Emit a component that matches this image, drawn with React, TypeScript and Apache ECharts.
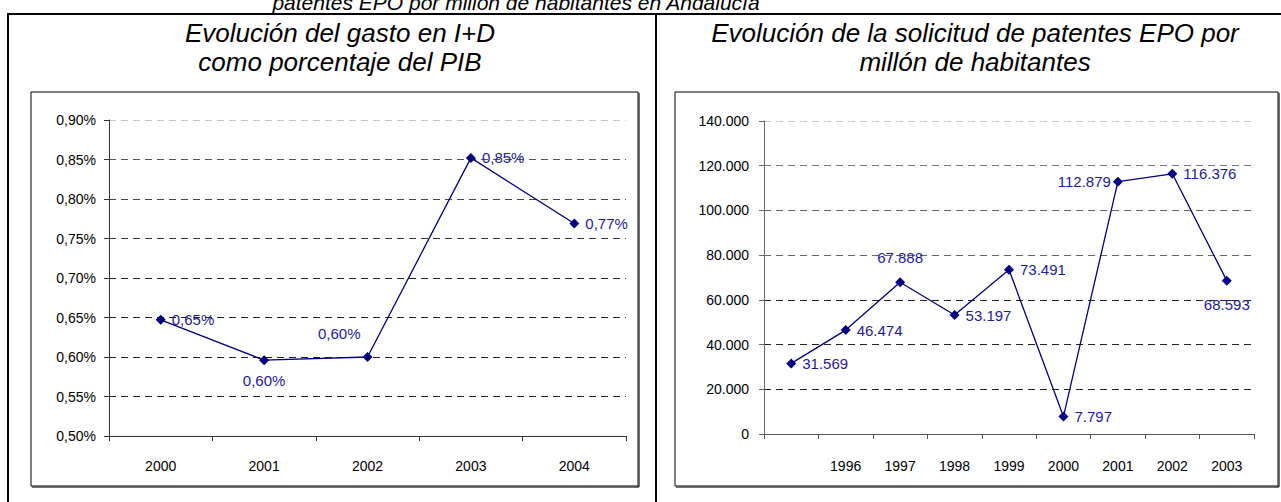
import React, { useEffect, useRef } from "react";
import * as echarts from "echarts";

// ---- data ----
const gastoYears = ["2000", "2001", "2002", "2003", "2004"];
const gastoValues = [0.647, 0.596, 0.6, 0.852, 0.769];
const gastoTicks = { min: 0.5, max: 0.9, interval: 0.05 };

const patentYears = ["", "1996", "1997", "1998", "1999", "2000", "2001", "2002", "2003"];
const patentValues = [31569, 46474, 67888, 53197, 73491, 7797, 112879, 116376, 68593];
const patentTicks = { min: 0, max: 140000, interval: 20000 };

const topTitle = "patentes EPO por millón de habitantes en Andalucía";
const leftTitle = ["Evolución del gasto en I+D", "como porcentaje del PIB"];
const rightTitle = ["Evolución de la solicitud de patentes EPO por", "millón de habitantes"];

// ---- styling helpers ----
const FONT = "Liberation Sans";
const NAVY = "#000080";
const LABEL_COLOR = "#1c1c9c";

const fmtPct = (v: number) => v.toFixed(2).replace(".", ",") + "%";
const fmtThousands = (v: number) =>
  Math.round(v)
    .toString()
    .replace(/\B(?=(\d{3})+(?!\d))/g, ".");

const gastoLabelCfg: any[] = [
  { position: "right", distance: 6 },
  { position: "bottom", distance: 8 },
  { position: "left", distance: 2, offset: [0, -24] },
  { position: "right", distance: 6 },
  { position: "right", distance: 6 },
];
const patentLabelCfg: any[] = [
  { position: "right", distance: 6 },
  { position: "right", distance: 6 },
  { position: "top", distance: 12 },
  { position: "right", distance: 6 },
  { position: "right", distance: 6 },
  { position: "right", distance: 6 },
  { position: "left", distance: 2 },
  { position: "right", distance: 6 },
  { position: "bottom", distance: 11 },
];

function frame(x: number, y: number, w: number, h: number) {
  return [
    { type: "rect", shape: { x, y, width: w, height: h }, style: { fill: "none", stroke: "#000", lineWidth: 1 }, z: 1 },
    { type: "line", shape: { x1: x + w + 1, y1: y + 1, x2: x + w + 1, y2: y + h + 1 }, style: { stroke: "#444", lineWidth: 1.5 }, z: 1 },
    { type: "line", shape: { x1: x + 1, y1: y + h + 1, x2: x + w + 1, y2: y + h + 1 }, style: { stroke: "#444", lineWidth: 1.5 }, z: 1 },
  ];
}

function titleText(lines: string[], cx: number, y0: number) {
  return lines.map((t, i) => ({
    type: "text",
    x: cx,
    y: y0 + i * 29,
    style: {
      text: t,
      fontFamily: FONT,
      fontStyle: "italic",
      fontSize: 26,
      fill: "#000",
      align: "center",
      verticalAlign: "middle",
    },
    z: 2,
  }));
}

export default function App() {
  const ref = useRef<HTMLDivElement>(null);

  useEffect(() => {
    document.body.style.margin = "0";
    if (!ref.current) return;
    const chart = echarts.init(ref.current, null, { renderer: "svg" });

    const axisLabelBase = { fontFamily: FONT, fontSize: 14, color: "#000" };

    const option: any = {
      animation: false,
      backgroundColor: "#fff",
      grid: [
        { left: 109, top: 120, width: 517, height: 316, containLabel: false },
        { left: 764, top: 121, width: 490, height: 313, containLabel: false },
      ],
      xAxis: [
        {
          type: "category",
          gridIndex: 0,
          data: gastoYears,
          boundaryGap: true,
          axisLine: { lineStyle: { color: "#333", width: 1 } },
          axisTick: { show: true, length: 5, lineStyle: { color: "#333" } },
          axisLabel: { ...axisLabelBase, margin: 23 },
          splitLine: { show: false },
        },
        {
          type: "category",
          gridIndex: 1,
          data: patentYears,
          boundaryGap: true,
          axisLine: { lineStyle: { color: "#555", width: 1 } },
          axisTick: { show: true, length: 5, interval: 0, lineStyle: { color: "#555" } },
          axisLabel: { ...axisLabelBase, margin: 25, interval: 0 },
          splitLine: { show: false },
        },
      ],
      yAxis: [
        {
          type: "value",
          gridIndex: 0,
          min: gastoTicks.min,
          max: gastoTicks.max,
          interval: gastoTicks.interval,
          axisLine: { show: true, lineStyle: { color: "#333", width: 1 } },
          axisTick: { show: true, length: 5, lineStyle: { color: "#333" } },
          axisLabel: { ...axisLabelBase, margin: 13, formatter: (v: number) => fmtPct(v) },
          splitLine: {
            show: true,
            lineStyle: {
              type: [7, 5],
              width: 1,
              color: ["#222", "#222", "#222", "#222", "#222", "#333", "#444", "#555", "#c8c8c8"],
            },
          },
        },
        {
          type: "value",
          gridIndex: 1,
          min: patentTicks.min,
          max: patentTicks.max,
          interval: patentTicks.interval,
          axisLine: { show: true, lineStyle: { color: "#666", width: 1 } },
          axisTick: { show: true, length: 5, lineStyle: { color: "#666" } },
          axisLabel: { ...axisLabelBase, margin: 15, formatter: (v: number) => fmtThousands(v) },
          splitLine: {
            show: true,
            lineStyle: {
              type: [7, 5],
              width: 1,
              color: ["#222", "#222", "#222", "#222", "#666", "#666", "#777", "#c8c8c8"],
            },
          },
        },
      ],
      series: [
        {
          type: "line",
          xAxisIndex: 0,
          yAxisIndex: 0,
          data: gastoValues.map((v, i) => ({
            value: v,
            label: { show: true, ...gastoLabelCfg[i] },
          })),
          lineStyle: { color: NAVY, width: 1.3 },
          itemStyle: { color: NAVY },
          symbol: "diamond",
          symbolSize: 10,
          label: {
            show: true,
            fontFamily: FONT,
            fontSize: 15,
            color: LABEL_COLOR,
            formatter: (p: any) => fmtPct(p.value),
          },
          z: 3,
        },
        {
          type: "line",
          xAxisIndex: 1,
          yAxisIndex: 1,
          data: patentValues.map((v, i) => ({
            value: v,
            label: { show: true, ...patentLabelCfg[i] },
          })),
          lineStyle: { color: NAVY, width: 1.3 },
          itemStyle: { color: NAVY },
          symbol: "diamond",
          symbolSize: 10,
          label: {
            show: true,
            fontFamily: FONT,
            fontSize: 15,
            color: LABEL_COLOR,
            formatter: (p: any) => fmtThousands(p.value),
          },
          z: 3,
        },
      ],
      graphic: [
        // outer frame and divider
        { type: "rect", shape: { x: 8, y: 14, width: 1290, height: 500 }, style: { fill: "none", stroke: "#000", lineWidth: 2 }, z: 1 },
        { type: "line", shape: { x1: 656, y1: 14, x2: 656, y2: 510 }, style: { stroke: "#000", lineWidth: 2 }, z: 1 },
        // clipped overall title
        {
          type: "text",
          x: 516,
          y: 2,
          style: {
            text: topTitle,
            fontFamily: FONT,
            fontStyle: "italic",
            fontSize: 21,
            fill: "#000",
            align: "center",
            verticalAlign: "middle",
          },
          z: 2,
        },
        ...titleText(leftTitle, 340, 33),
        ...titleText(rightTitle, 975, 33),
        ...frame(31, 92, 607, 394),
        ...frame(675, 92, 603, 394),
      ],
    };

    chart.setOption(option);
    return () => chart.dispose();
  }, []);

  return <div ref={ref} style={{ width: 1281, height: 502 }} />;
}
